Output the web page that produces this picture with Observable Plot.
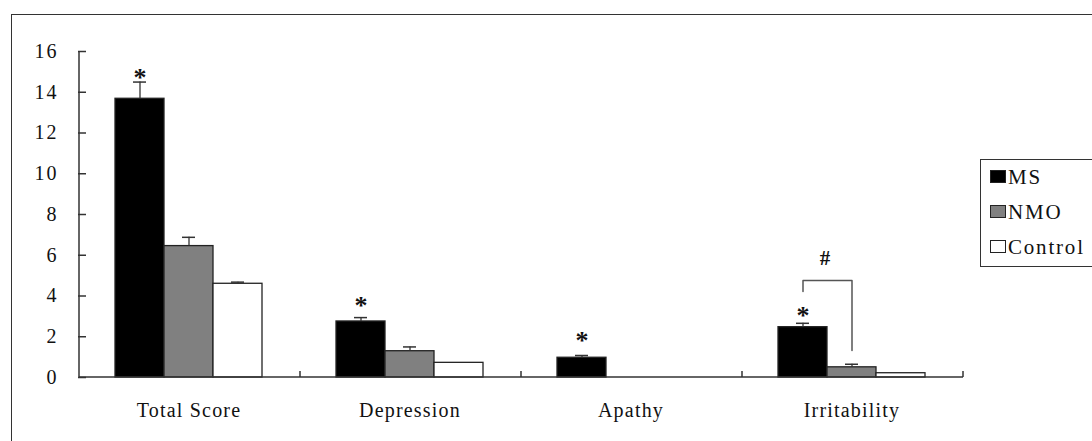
<!DOCTYPE html>
<html>
<head>
<meta charset="utf-8">
<script src="https://cdn.jsdelivr.net/npm/d3@7"></script>
<script src="https://cdn.jsdelivr.net/npm/@observablehq/plot@0.6"></script>
<style>
  html, body { margin: 0; padding: 0; background: #fff; }
  body { width: 1092px; height: 441px; position: relative; overflow: hidden; font-family: "Liberation Serif", serif; }
  #frame { position: absolute; left: 11px; top: 14px; width: 1200px; height: 600px; border-top: 1.5px solid #333; border-left: 1.5px solid #333; }
  #chart { position: absolute; left: 0; top: 0; }
  #legend { position: absolute; left: 980px; top: 159px; width: 200px; height: 106px; border: 1.5px solid #333; background: #fff; }
  .item { position: absolute; left: 9px; height: 22px; font-size: 21px; letter-spacing: 1.8px; color: #111; white-space: nowrap; line-height: 22px; }
  .sw { display: inline-block; width: 14px; height: 11px; border: 1px solid #222; margin-right: 2px; vertical-align: 1px; }
</style>
</head>
<body>
<div id="frame"></div>
<div id="chart"></div>
<div id="legend"></div>
<script>
// ---- data ----
const categories = ["Total Score", "Depression", "Apathy", "Irritability"];
const series = ["MS", "NMO", "Control"];
const seriesColors = ["#000000", "#808080", "#ffffff"];
const msValues = [13.68, 2.75, 0.97, 2.47];
const nmoValues = [6.45, 1.29, 0, 0.5];
const controlValues = [4.6, 0.72, 0, 0.21];
const msErr = [0.82, 0.19, 0.11, 0.19];
const nmoErr = [0.43, 0.21, 0, 0.15];
const controlErr = [0.08, 0, 0, 0];
const yTicks = [0, 2, 4, 6, 8, 10, 12, 14, 16];
// significance markers (* over MS bars), label y positions
const starCategories = ["Total Score", "Depression", "Apathy", "Irritability"];
const starY = [15.07, 3.89, 2.16, 3.39];
// # bracket between MS and NMO in Irritability
const bracketCategory = "Irritability";
const bracketPoints = [
  {s: "MS", y: 4.22}, {s: "MS", y: 4.76}, {s: "NMO", y: 4.76}, {s: "NMO", y: 1.33}
];
const hashY = 5.84;

// ---- table ----
const valueSets = [msValues, nmoValues, controlValues];
const errSets = [msErr, nmoErr, controlErr];
const rows = [];
categories.forEach((c, i) => series.forEach((s, j) => {
  rows.push({category: c, series: s, value: valueSets[j][i], err: errSets[j][i]});
}));
const errRows = rows.filter(d => d.err > 0);
const stars = starCategories.map((c, i) => ({category: c, series: "MS", y: starY[i]}));
const bracket = bracketPoints.map(p => ({category: bracketCategory, series: p.s, y: p.y}));

const font = "Liberation Serif, serif";

// axis lines + category boundary ticks, drawn once (first facet sits at the frame origin)
let axesDrawn = false;
function axesLines(index, scales, values, dimensions) {
  if (axesDrawn) return null;
  axesDrawn = true;
  const g = d3.create("svg:g").attr("stroke", "#333").attr("stroke-width", 1.5).attr("fill", "none");
  const fx = scales.fx, y = scales.y;
  const x0 = fx(categories[0]);
  const x1 = fx(categories[categories.length - 1]) + fx.bandwidth();
  const y0 = y(0);
  g.append("line").attr("x1", x0).attr("x2", x0).attr("y1", y(16)).attr("y2", y0);
  g.append("line").attr("x1", x0).attr("x2", x1).attr("y1", y0).attr("y2", y0);
  for (const c of categories) {
    const xr = fx(c) + fx.bandwidth();
    g.append("line").attr("x1", xr).attr("x2", xr).attr("y1", y0).attr("y2", y0 - 6);
  }
  return g.node();
}

const chart = Plot.plot({
  width: 1092,
  height: 441,
  marginLeft: 77,
  marginRight: 130,
  marginTop: 51,
  marginBottom: 64,
  style: {fontFamily: font, background: "transparent"},
  fx: {domain: categories, padding: 0, label: null},
  x: {domain: series, paddingInner: 0, paddingOuter: 0.755, axis: null},
  y: {domain: [0, 16], label: null},
  color: {domain: series, range: seriesColors},
  marks: [
    Plot.barY(rows, {fx: "category", x: "series", y: "value", fill: "series", stroke: "#222", strokeWidth: 1.3}),
    Plot.ruleX(errRows, {fx: "category", x: "series", y1: "value", y2: d => d.value + d.err, stroke: "#333", strokeWidth: 1.3}),
    Plot.tickY(errRows, {fx: "category", x: "series", y: d => d.value + d.err, stroke: "#333", strokeWidth: 1.5, insetLeft: 18, insetRight: 18}),
    Plot.text(stars, {fx: "category", x: "series", y: "y", text: () => "*", fontSize: 26, fontWeight: "bold", fill: "#111", dy: 7}),
    Plot.line(bracket, {fx: "category", x: "series", y: "y", stroke: "#555", strokeWidth: 1.5}),
    Plot.text([{category: bracketCategory}], {fx: "category", x: () => "MS", dx: 22, y: () => hashY, text: () => "#", fontSize: 21, fontWeight: "bold", fill: "#111"}),
    Plot.axisY({ticks: yTicks, tickSize: 8, dx: 8, tickFormat: () => "", stroke: "#333", strokeWidth: 1.5}),
    Plot.axisY({ticks: yTicks, tickSize: 0, tickPadding: 20, fontSize: 20, fill: "#111", label: null}),
    Plot.axisFx({anchor: "bottom", tickSize: 0, tickPadding: 25, fontSize: 20, fill: "#111", label: null}),
    axesLines
  ]
});
document.getElementById("chart").appendChild(chart);
chart.querySelectorAll('[aria-label="fx-axis tick label"] text').forEach(t => t.style.letterSpacing = "1.2px");
chart.querySelectorAll('[aria-label="y-axis tick label"] text').forEach(t => t.style.letterSpacing = "2px");

// legend
const legend = document.getElementById("legend");
series.forEach((s, i) => {
  const it = document.createElement("div");
  it.className = "item";
  it.style.top = (6 + i * 35) + "px";
  it.innerHTML = `<span class="sw" style="background:${seriesColors[i]}"></span>${s}`;
  legend.appendChild(it);
});
</script>
</body>
</html>
